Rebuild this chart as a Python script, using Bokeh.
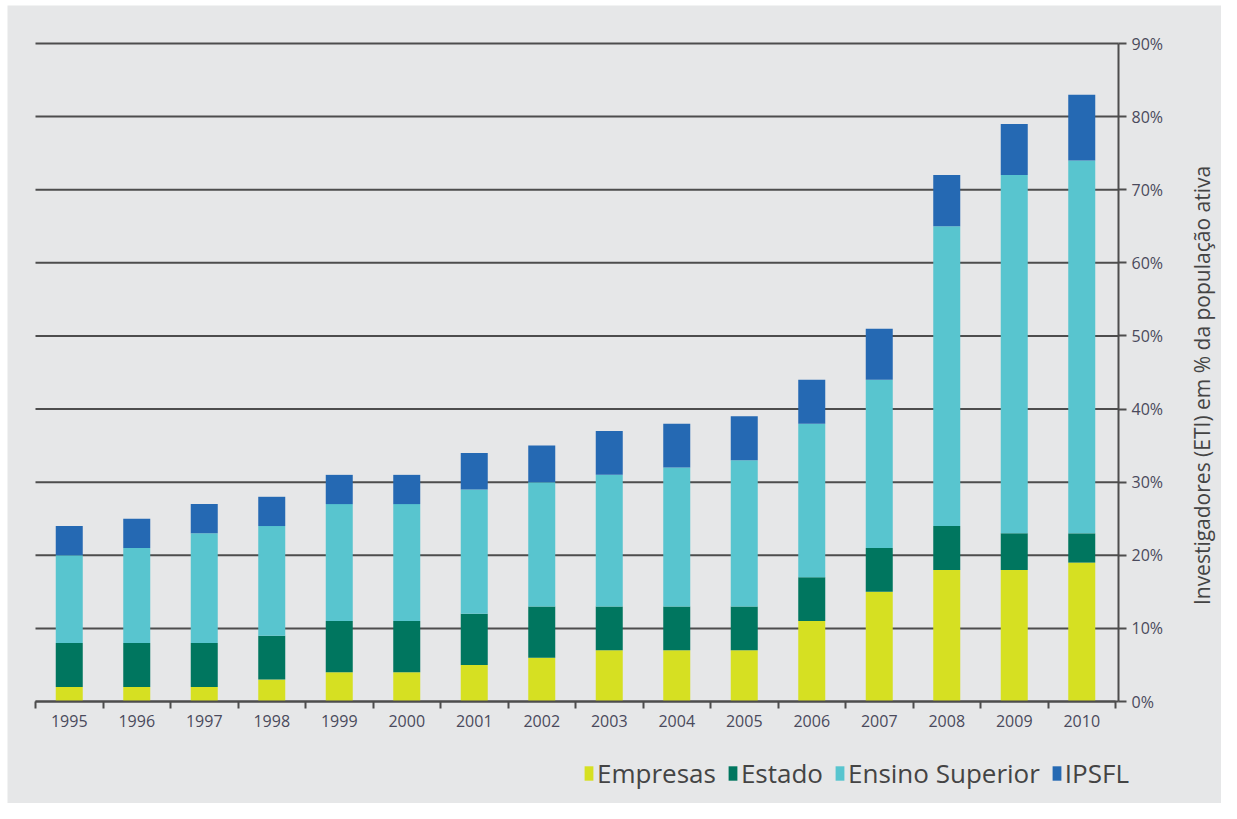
import math
from bokeh.plotting import figure
from bokeh.models import (ColumnDataSource, FixedTicker, Legend, LegendItem, LinearAxis,
                          NumeralTickFormatter, CustomJSTickFormatter, Label)
from bokeh.embed import file_html
from bokeh.resources import INLINE

years = [1995, 1996, 1997, 1998, 1999, 2000, 2001, 2002, 2003, 2004, 2005,
         2006, 2007, 2008, 2009, 2010]
empresas = [2, 2, 2, 3, 4, 4, 5, 6, 7, 7, 7, 11, 15, 18, 18, 19]
estado = [6, 6, 6, 6, 7, 7, 7, 7, 6, 6, 6, 6, 6, 6, 5, 4]
ensino_superior = [12, 13, 15, 15, 16, 16, 17, 17, 18, 19, 20, 21, 23, 41, 49, 51]
ipsfl = [4, 4, 4, 4, 4, 4, 5, 5, 6, 6, 6, 6, 7, 7, 7, 9]
series = ["Empresas", "Estado", "Ensino Superior", "IPSFL"]
colors = ["#d6e022", "#00765f", "#58c5cf", "#2569b3"]
y_ticks = [0, 10, 20, 30, 40, 50, 60, 70, 80, 90]
y_label = "Investigadores (ETI) em % da população ativa"

BG = "#e6e7e8"
INK = "#4a4a5c"
GRID = "#4d4d4d"

W, H = 1221, 803
FRAME_L, FRAME_T = 7, 5          # white margin round the grey panel
# pixel geometry of the plotting area
PX_LEFT, PX_RIGHT, PX_TOP, PX_ZERO = 35, 1115, 43, 701
x_lo, x_hi = years[0] - 0.5, years[-1] + 0.5
x_px = (PX_RIGHT - PX_LEFT) / (x_hi - x_lo)
y_px = (PX_ZERO - PX_TOP) / (y_ticks[-1] - y_ticks[0])
x_range = (x_lo - (PX_LEFT - FRAME_L) / x_px, x_hi + (W - PX_RIGHT) / x_px)
y_range = (-(H - PX_ZERO) / y_px, y_ticks[-1] + (PX_TOP - FRAME_T) / y_px)
axis_x = x_hi + 3 / x_px

src = ColumnDataSource(dict(year=years, Empresas=empresas, Estado=estado,
                            **{"Ensino Superior": ensino_superior}, IPSFL=ipsfl))

p = figure(width=W, height=H, x_range=x_range, y_range=y_range,
           x_axis_location=None, y_axis_location=None, output_backend="svg",
           toolbar_location=None, min_border=0,
           min_border_left=FRAME_L, min_border_top=FRAME_T)
p.background_fill_color = BG
p.border_fill_color = "white"
p.outline_line_color = None
p.xgrid.visible = False
p.ygrid.visible = False

# horizontal grid lines, one per y tick, spanning the category area
p.segment(x0=[x_lo] * len(y_ticks), x1=[axis_x] * len(y_ticks), y0=y_ticks, y1=y_ticks,
          line_color=GRID, line_width=2)

rs = p.vbar_stack(series, x="year", width=0.4, color=colors, line_width=0, source=src)

# x axis at y = 0
xa = LinearAxis(fixed_location=0, bounds=(x_lo, x_hi))
xa.ticker = FixedTicker(ticks=years, minor_ticks=[y - 0.5 for y in years] + [x_hi])
xa.formatter = NumeralTickFormatter(format="0")
xa.major_tick_out = 0
xa.major_tick_in = 0
xa.minor_tick_out = 7
xa.minor_tick_in = 0
xa.minor_tick_line_color = GRID
xa.minor_tick_line_width = 2
xa.axis_line_color = GRID
xa.axis_line_width = 2
xa.major_label_text_font = "Open Sans"
xa.major_label_text_font_size = "16px"
xa.major_label_text_color = INK
xa.major_label_standoff = 6
p.add_layout(xa, "below")

# y axis on the right of the bars
ya = LinearAxis(fixed_location=axis_x, bounds=(y_ticks[0], y_ticks[-1]))
ya.ticker = FixedTicker(ticks=y_ticks)
ya.formatter = CustomJSTickFormatter(code="return tick + '%';")
ya.minor_tick_line_color = None
ya.major_tick_out = 8
ya.major_tick_in = 0
ya.major_tick_line_color = GRID
ya.major_tick_line_width = 2
ya.axis_line_color = GRID
ya.axis_line_width = 2
ya.major_label_text_font = "Open Sans"
ya.major_label_text_font_size = "16px"
ya.major_label_text_color = INK
ya.major_label_standoff = 5
p.add_layout(ya, "right")

# right-hand axis title, reading bottom to top (screen units relative to the frame)
p.add_layout(Label(x=W - FRAME_L - 20, y=H - 385, x_units="screen", y_units="screen",
                   text=y_label, angle=math.pi / 2, text_align="center",
                   text_baseline="middle", text_font="Open Sans",
                   text_font_size="21px", text_color="#444444"))

legend = Legend(items=[LegendItem(label=s, renderers=[r]) for s, r in zip(series, rs)],
                orientation="horizontal", location=(583 - FRAME_L, H - 791))
legend.glyph_width = 11
legend.glyph_height = 18
legend.label_standoff = 3
legend.spacing = 11
legend.padding = 0
legend.margin = 0
legend.label_text_font = "Open Sans"
legend.label_text_font_size = "26px"
legend.label_text_color = "#444444"
legend.background_fill_alpha = 0
legend.border_line_color = None
p.add_layout(legend, "center")

open("out.html", "w").write(file_html(p, INLINE))
